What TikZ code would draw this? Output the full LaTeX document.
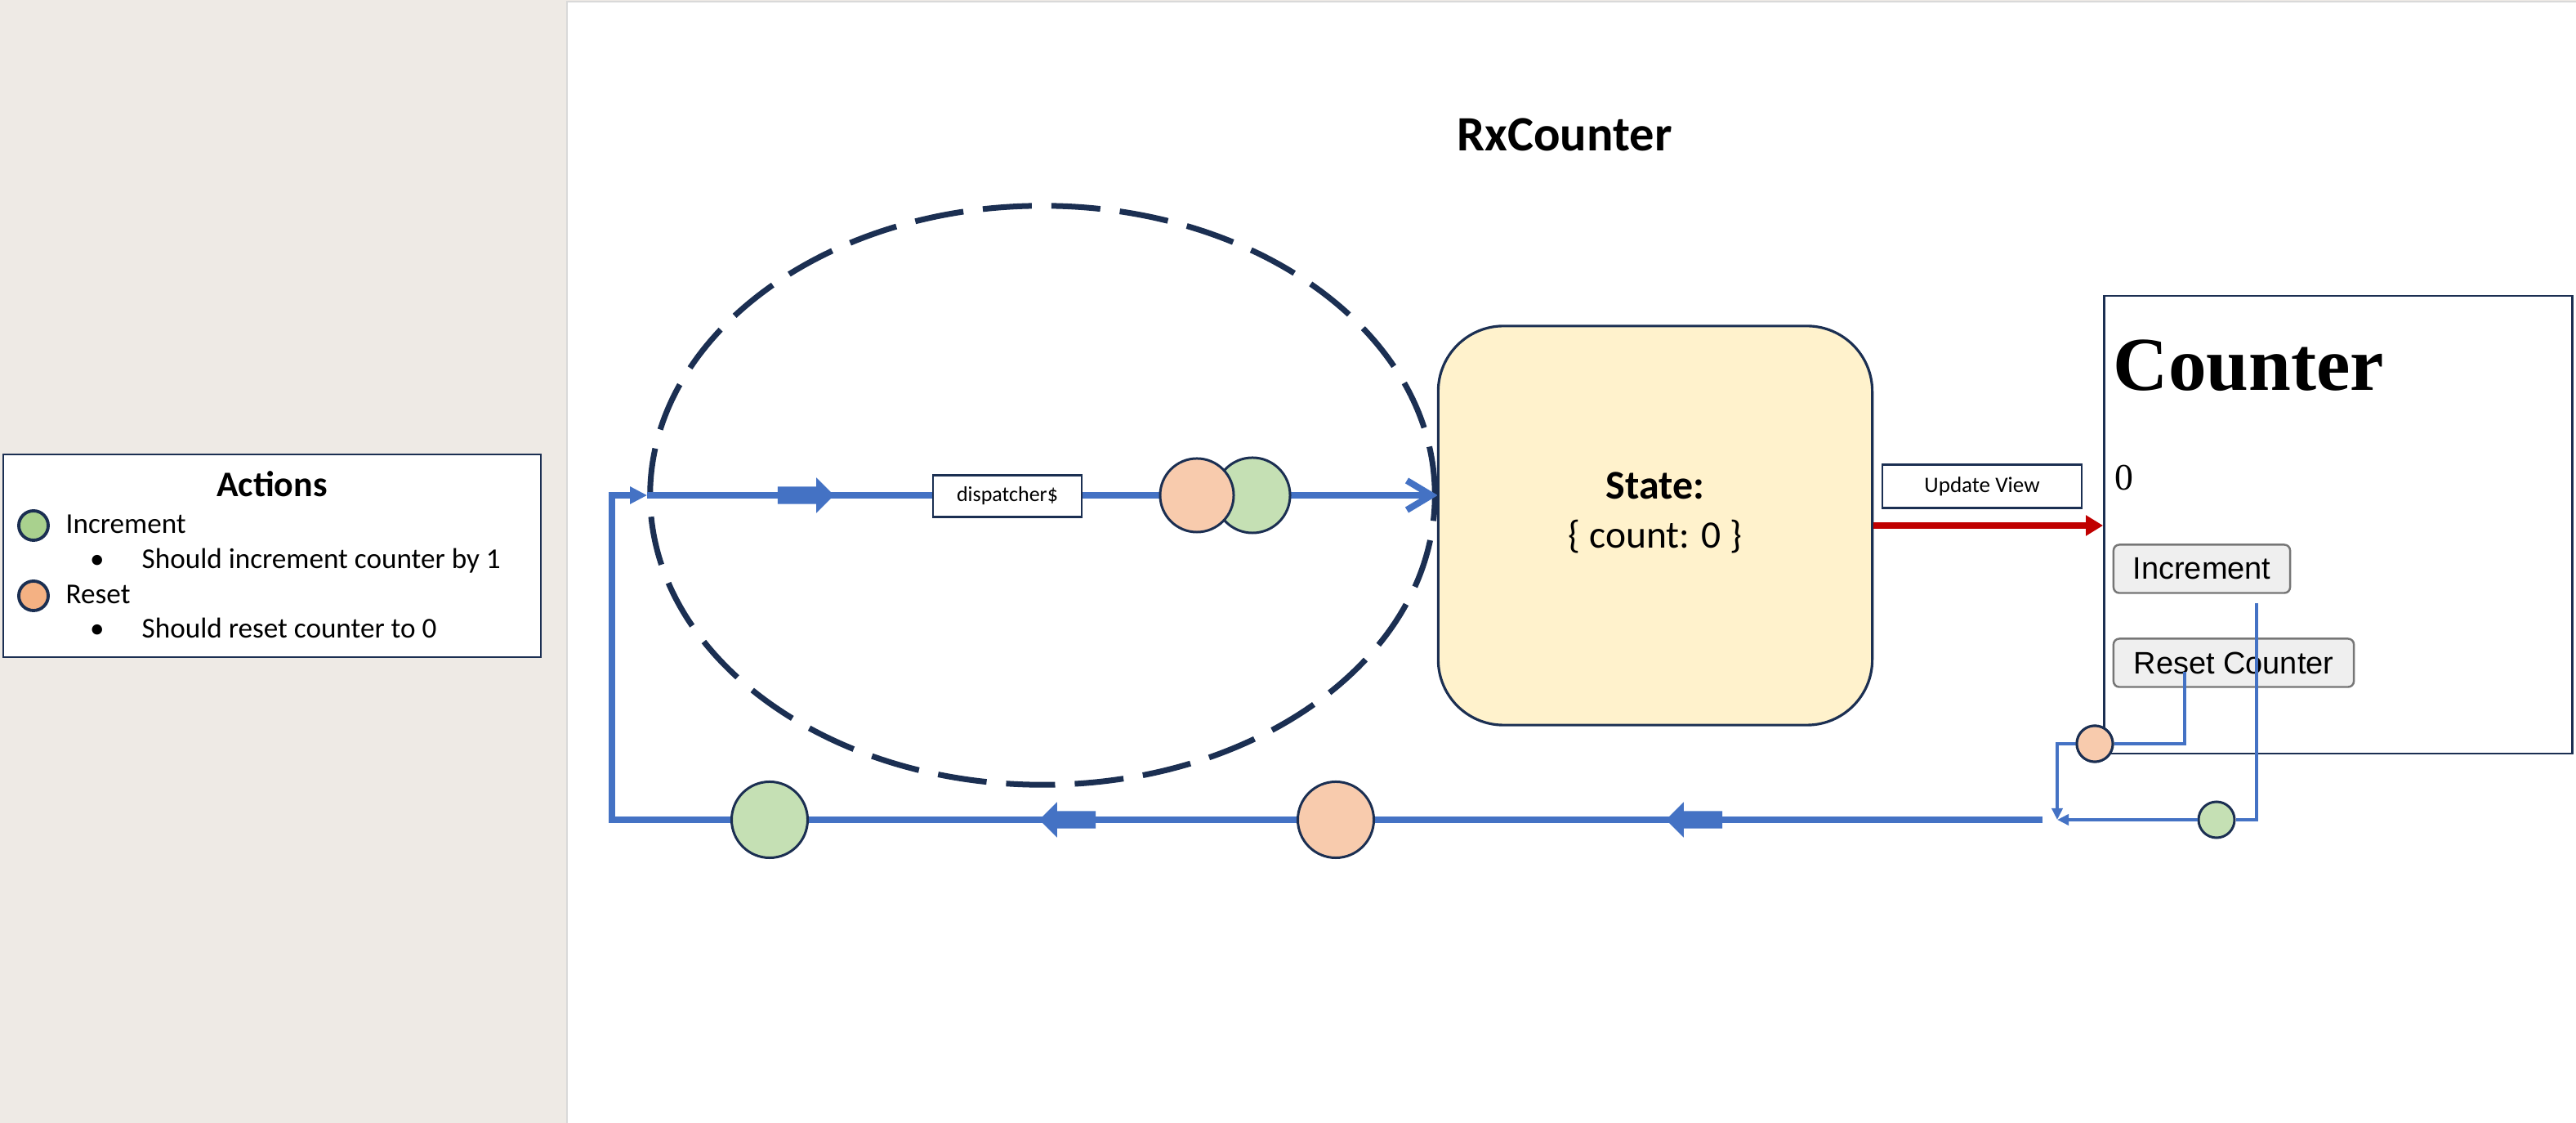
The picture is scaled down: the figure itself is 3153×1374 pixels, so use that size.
\documentclass[tikz,border=0pt]{standalone}
\usepackage{fontspec}
\setmainfont{Carlito}
\newfontfamily\serifweb{Liberation Serif}
\newfontfamily\sansweb{Liberation Sans}
\usetikzlibrary{arrows.meta,positioning,shapes.geometric,shapes.arrows}
\definecolor{RxBlue}{HTML}{4472C4}
\definecolor{RxNavy}{HTML}{1B2F52}
\definecolor{RxRed}{HTML}{C00000}
\definecolor{RxInc}{HTML}{C5E0B4}
\definecolor{RxRst}{HTML}{F8CBAD}
\definecolor{RxIncL}{HTML}{A9D18E}
\definecolor{RxRstL}{HTML}{F4B183}
\definecolor{RxState}{HTML}{FFF2CC}
\definecolor{RxPaper}{HTML}{EEEAE5}
\definecolor{RxBtn}{HTML}{EFEFEF}
\definecolor{RxBtnLine}{HTML}{767676}

\begin{document}
\begin{tikzpicture}[x=0.01cm,y=-0.01cm,
  flow/.style={draw=RxBlue,line width=0.08cm},
  wire/.style={draw=RxBlue,line width=0.035cm},
  dot/.style={circle,draw=RxNavy,line width=0.85pt,minimum size=#1,inner sep=0pt},
  blk/.style={single arrow,fill=RxBlue,draw=none,inner sep=0.1cm,minimum height=0.69cm,minimum width=0.42cm,single arrow head extend=0.11cm,single arrow tip angle=90,shape border rotate=#1},
  tag/.style={draw=RxNavy,line width=0.6pt,fill=white,inner sep=0pt},
  txt/.style={inner sep=0pt,font=\fontsize{10}{12}\selectfont},
  btn/.style={draw=RxBtnLine,line width=0.7pt,fill=RxBtn,rounded corners=2pt,inner sep=0pt,minimum height=0.59cm,font=\sansweb\fontsize{10.8}{12}\selectfont}]
  \useasboundingbox (0,0) rectangle (3153,1374);
  \fill[RxPaper] (0,0) rectangle (3153,1374);
  \draw[fill=white,draw=black!15,line width=0.5pt] (694,2) rectangle (3170,1390);

  \node[font=\bfseries\fontsize{17.2}{20}\selectfont] (title) at (1915,165) {RxCounter};

  % legend
  \node[draw=RxNavy,line width=0.7pt,fill=white,minimum width=6.58cm,minimum height=2.48cm,inner sep=0pt] (legend) at (333,680) {};
  \node[anchor=base,inner sep=0pt,font=\bfseries\fontsize{12.5}{14}\selectfont] (acts) at (333,608) {Actions};
  \node[dot=0.36cm,fill=RxIncL,line width=1.1pt] (lgInc) at (41,643) {};
  \node[dot=0.36cm,fill=RxRstL,line width=1.1pt] (lgRst) at (41,729) {};
  \node[txt,anchor=base west] (lgIncT) at (80,653) {Increment};
  \node[txt,anchor=base] (lgIncD) at (119,696) {\textbullet};
  \node[txt,anchor=base west] (lgIncB) at (173,696) {Should increment counter by 1};
  \node[txt,anchor=base west] (lgRstT) at (80,739) {Reset};
  \node[txt,anchor=base] (lgRstD) at (119,781) {\textbullet};
  \node[txt,anchor=base west] (lgRstB) at (173,781) {Should reset counter to 0};

  % dispatcher loop
  \node[ellipse,draw=RxNavy,line width=0.07cm,dash pattern=on 0.6cm off 0.24cm,minimum width=9.6cm,minimum height=7.08cm,inner sep=0pt] (loop) at (1276,606) {};
  \coordinate (bR) at (2500,1003);
  \coordinate (bL) at (749,1003);
  \coordinate (tL) at (749,606);
  \draw[flow,-{Triangle[length=0.21cm,width=0.2cm]}] (bR) -- (bL) -- (tL) -- (loop.west);
  \draw[flow,-{Straight Barb[length=0.3cm,width=0.36cm]}] (loop.west) -- (loop.east);
  \node[blk=0] (mkTop) at (981,606) {};
  \node[tag,minimum width=1.82cm,minimum height=0.51cm,font=\fontsize{7.4}{9}\selectfont] (disp) at (1233,607) {dispatcher\$};
  \node[dot=0.92cm,fill=RxInc] (incA) at (1533,606) {};
  \node[dot=0.9cm,fill=RxRst] (rstA) at (1465,606) {};
  \node[blk=180] (mkBot1) at (2079,1003) {};
  \node[blk=180] (mkBot2) at (1312,1003) {};
  \node[dot=0.93cm,fill=RxRst] (rstB) at (1635,1003) {};
  \node[dot=0.93cm,fill=RxInc] (incB) at (942,1003) {};

  % state and view
  \node[draw=RxNavy,line width=0.9pt,fill=RxState,rounded corners=0.8cm,minimum width=5.31cm,minimum height=4.88cm,inner sep=0pt] (state) at (2026,643) {};
  \node[anchor=base,inner sep=0pt,font=\bfseries\fontsize{14.2}{17}\selectfont] (stLbl) at (2026,611) {State:};
  \node[anchor=base,inner sep=0pt,font=\fontsize{13.5}{16}\selectfont] (stVal) at (2026,671) {\{ count: 0 \}};
  \node[tag,minimum width=2.44cm,minimum height=0.53cm,font=\fontsize{7.7}{9}\selectfont] (upd) at (2426,595) {Update View};
  \node[draw=RxNavy,line width=0.7pt,fill=white,minimum width=5.73cm,minimum height=5.6cm,inner sep=0pt] (view) at (2862,642) {};
  \draw[RxRed,line width=0.08cm,-{Triangle[length=0.21cm,width=0.24cm]}] (state.east) -- (state.east -| view.west);
  \node[anchor=base west,inner sep=0pt,font=\serifweb\bfseries\fontsize{26.5}{30}\selectfont] (vHead) at (2586,478) {Counter};
  \node[anchor=base west,inner sep=0pt,font=\serifweb\fontsize{13}{15}\selectfont] (vCount) at (2588,600) {0};
  \node[btn,minimum width=2.16cm] (incBtn) at (2695,696) {Increment};
  \node[btn,minimum width=2.94cm] (rstBtn) at (2734,811) {Reset Counter};

  % clicks back to the stream
  \coordinate (join) at (2518,1003);
  \coordinate (incSrc) at (2762,738);
  \coordinate (rstSrc) at (2674,822);
  \node[dot=0.44cm,fill=RxRst] (rstS) at (2564,910) {};
  \node[dot=0.44cm,fill=RxInc] (incS) at (2713,1003) {};
  \draw[wire] (incSrc) |- (incS.east);
  \draw[wire,-{Triangle[length=0.14cm,width=0.13cm]}] (incS.west) -- (join);
  \draw[wire] (rstSrc) |- (rstS.east);
  \draw[wire,-{Triangle[length=0.14cm,width=0.13cm]}] (rstS.west) -| (join);
  \node[dot=0.44cm,fill=RxRst] at (rstS) {};
\end{tikzpicture}
\end{document}
